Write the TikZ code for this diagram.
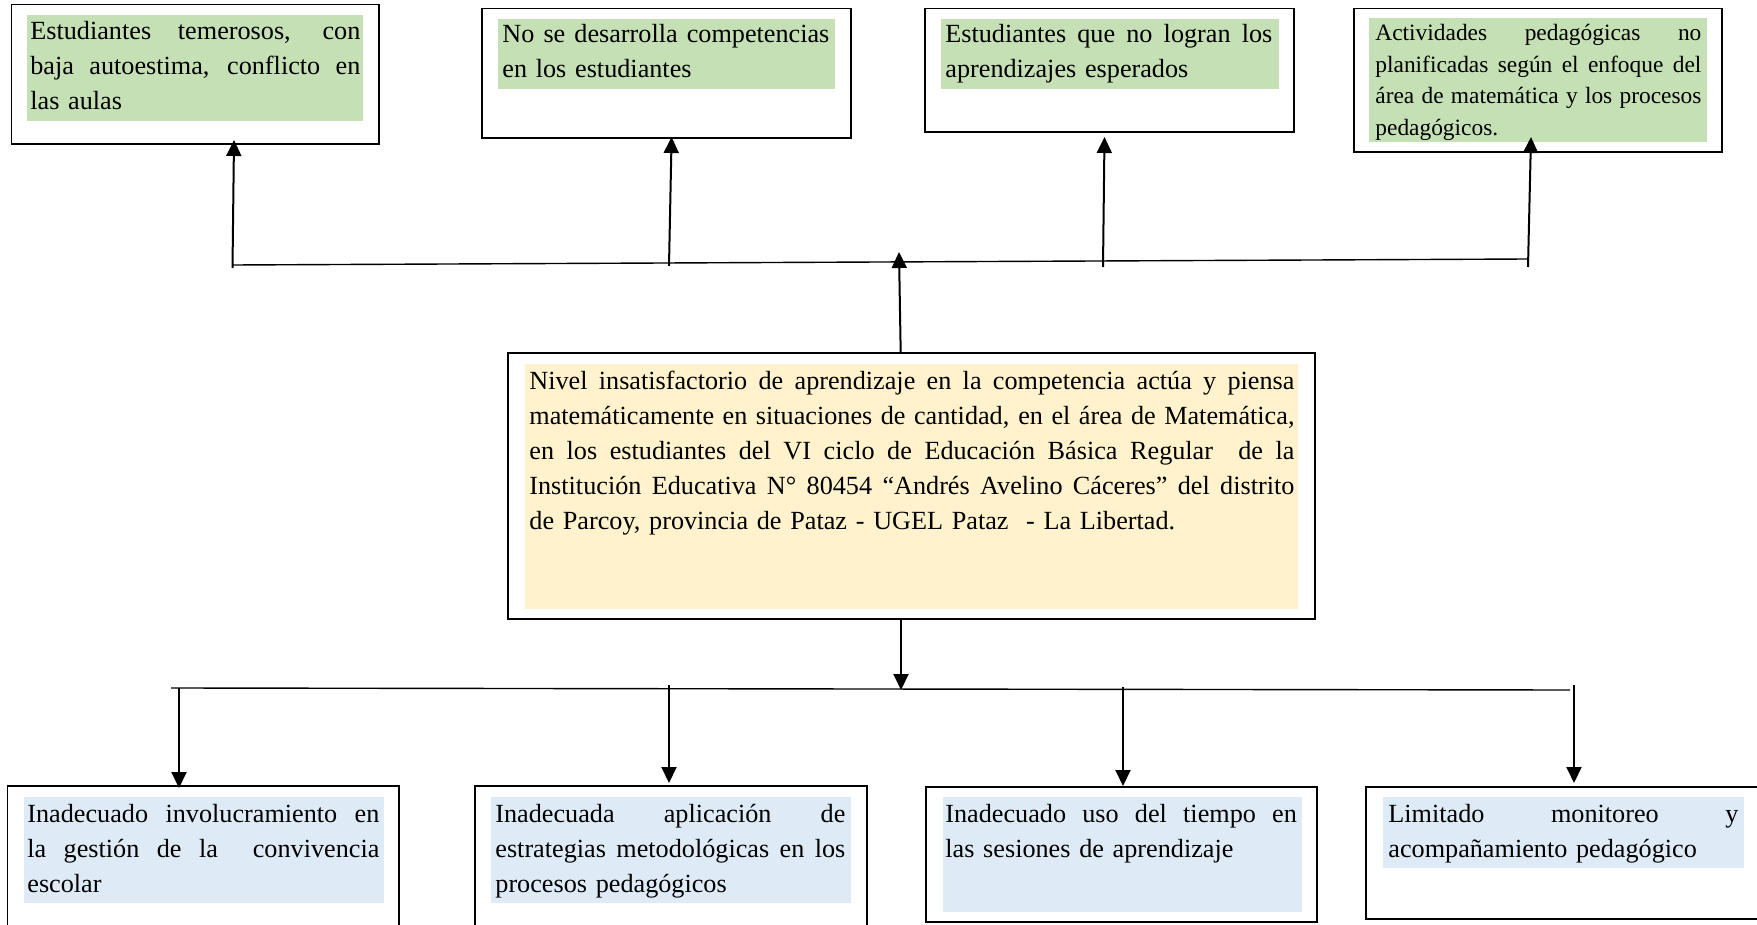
\documentclass[tikz,border=0pt]{standalone}
\usepackage{fontspec}
\setmainfont{Liberation Serif}
\usetikzlibrary{arrows.meta,fit}
\setlength{\parindent}{0pt}
\definecolor{gfill}{HTML}{C5E0B4}
\definecolor{bfill}{HTML}{DEEBF7}
\definecolor{yfill}{HTML}{FFF2CC}
\newlength\jw
\newcommand\jl[1]{\leavevmode\hbox to\jw{\spaceskip=\fontdimen2\font plus 1fil\relax\xspaceskip=\fontdimen2\font plus 1fil\relax\strut#1}}
\newcommand\lastl[1]{\strut#1}
\begin{document}
\begin{tikzpicture}[x=0.5pt,y=-0.5pt,
  frame/.style={draw=black, line width=0.75pt, inner sep=0pt},
  thickframe/.style={draw=black, line width=1.3pt, inner sep=0pt},
  bg/.style={inner sep=0pt, draw=none},
  txt/.style={anchor=north west, inner sep=0pt, text width=#1, font=\fontsize{13.1}{17.5}\selectfont, execute at begin node={\setlength{\jw}{#1}}},
  txts/.style={anchor=north west, inner sep=0pt, text width=#1, font=\fontsize{11.7}{15.85}\selectfont, execute at begin node={\setlength{\jw}{#1}}},
  arr/.style={line width=1pt, -{Triangle[length=8pt,width=7.5pt]}},
  hline/.style={line width=0.7pt}]
\clip (0,0) rectangle (1757,925);
\fill[white] (0,0) rectangle (1757,925);

% ---------- top boxes ----------
\node[frame, fit={(11.5,4.7) (379,144)}] (b1) {};
\node[bg, fill=gfill, fit={(27,15) (363,121)}] (f1) {};
\node[txt=165pt] (t1) at (30,14.5) {\jl{Estudiantes temerosos, con}\\\jl{baja autoestima, conflicto en}\\\lastl{las aulas}};

\node[frame, fit={(482,8.3) (851,138)}] (b2) {};
\node[bg, fill=gfill, fit={(498,19) (835,89)}] (f2) {};
\node[txt=163.5pt] (t2) at (502,17.5) {\jl{No se desarrolla competencias}\\\lastl{en los estudiantes}};

\node[frame, fit={(925,8.3) (1294,132)}] (b3) {};
\node[bg, fill=gfill, fit={(941,19) (1279,89)}] (f3) {};
\node[txt=163.5pt] (t3) at (945,17.5) {\jl{Estudiantes que no logran los}\\\lastl{aprendizajes esperados}};

\node[frame, fit={(1354,8.3) (1722,152)}] (b4) {};
\node[bg, fill=gfill, fit={(1369,18) (1707,142)}] (f4) {};
\node[txts=163pt] (t4) at (1375,17.8) {\jl{Actividades pedagógicas no}\\\jl{planificadas según el enfoque del}\\\jl{área de matemática y los procesos}\\\lastl{pedagógicos.}};

% ---------- central box ----------
\node[thickframe, fit={(508,353) (1315,619)}] (c) {};
\node[bg, fill=yfill, fit={(525,364) (1298,609)}] (fc) {};
\node[txt=382.5pt] (tc) at (529,364.5) {\jl{Nivel insatisfactorio de aprendizaje en la competencia actúa y piensa}\\\jl{matemáticamente en situaciones de cantidad, en el área de Matemática,}\\\jl{en los estudiantes del VI ciclo de Educación Básica Regular\ \ de la}\\\jl{Institución Educativa N° 80454 “Andrés Avelino Cáceres” del distrito}\\\lastl{de Parcoy, provincia de Pataz - UGEL Pataz\ \ - La Libertad.}};

% ---------- bottom boxes ----------
\node[frame, fit={(7.3,786) (399,940)}] (b5) {};
\node[bg, fill=bfill, fit={(24,797) (384,903)}] (f5) {};
\node[txt=176pt] (t5) at (27,797.5) {\jl{Inadecuado involucramiento en}\\\jl{la gestión de la\ \ convivencia}\\\lastl{escolar}};

\node[frame, fit={(475,786) (867,940)}] (b6) {};
\node[bg, fill=bfill, fit={(491,797) (851,903)}] (f6) {};
\node[txt=175pt] (t6) at (495,797.5) {\jl{Inadecuada aplicación de}\\\jl{estrategias metodológicas en los}\\\lastl{procesos pedagógicos}};

\node[frame, fit={(926,787) (1317,922)}] (b7) {};
\node[bg, fill=bfill, fit={(943,797) (1302,912)}] (f7) {};
\node[txt=175.75pt] (t7) at (945,797.5) {\jl{Inadecuado uso del tiempo en}\\\lastl{las sesiones de aprendizaje}};

\node[frame, fit={(1366,787) (1790,919)}] (b8) {};
\node[bg, fill=bfill, fit={(1383,797) (1744,868)}] (f8) {};
\node[txt=175pt] (t8) at (1388,797.5) {\jl{Limitado monitoreo y}\\\lastl{acompañamiento pedagógico}};

% ---------- connector coordinates ----------
\coordinate (tl) at (232.5,265);
\coordinate (tr) at (1528,259);
\coordinate (a1b) at (232.5,268);  \coordinate (a1t) at (234,140);
\coordinate (a2b) at (669,266);    \coordinate (a2t) at (671.6,137);
\coordinate (a3b) at (1103,267);   \coordinate (a3t) at (1104.5,137);
\coordinate (a4b) at (1528,267);   \coordinate (a4t) at (1531,137);
\coordinate (cu) at (900.7,353);   \coordinate (cut) at (899,252);

\coordinate (bl) at (171,688);
\coordinate (br) at (1570,690);
\coordinate (cd) at (901,619);     \coordinate (cdt) at (901,690);
\coordinate (a5b) at (179,688);    \coordinate (a5t) at (179,788);
\coordinate (a6b) at (669,685);    \coordinate (a6t) at (669,783);
\coordinate (a7b) at (1123,687);   \coordinate (a7t) at (1123,786);
\coordinate (a8b) at (1574,685);   \coordinate (a8t) at (1574,783);

% ---------- connectors ----------
\draw[hline] (tl) -- (tr);
\draw[arr] (a1b) -- (a1t);
\draw[arr] (a2b) -- (a2t);
\draw[arr] (a3b) -- (a3t);
\draw[arr] (a4b) -- (a4t);
\draw[arr] (cu) -- (cut);

\draw[hline] (bl) -- (br);
\draw[arr] (cd) -- (cdt);
\draw[arr] (a5b) -- (a5t);
\draw[arr] (a6b) -- (a6t);
\draw[arr] (a7b) -- (a7t);
\draw[arr] (a8b) -- (a8t);
\end{tikzpicture}
\end{document}
